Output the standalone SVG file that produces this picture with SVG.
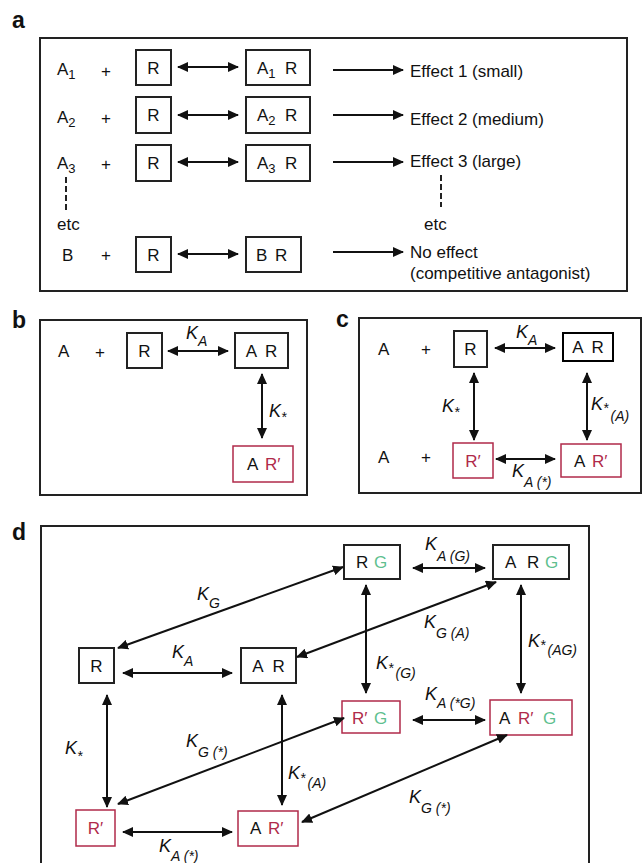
<svg xmlns="http://www.w3.org/2000/svg" width="644" height="863" viewBox="0 0 644 863">
<style>
text{font-family:"Liberation Sans",Arial,sans-serif;font-size:17px;fill:#111}
.lbl{font-weight:bold;font-size:23px}
.k{font-style:italic;font-size:18px}
.s{font-size:14px;font-style:italic}
.n{font-size:13px}
.frame{fill:none;stroke:#222;stroke-width:2}
.box{fill:#fff;stroke:#222;stroke-width:2}
.rbox{fill:#fff;stroke:#b02a4a;stroke-width:1.5}
.red{fill:#b02a4a}
.grn{fill:#5fbf8f}
.mid{text-anchor:middle}
.ar{stroke:#111;stroke-width:2;fill:none}
.bi{marker-start:url(#h);marker-end:url(#h)}
.uni{marker-end:url(#h)}
.dash{stroke:#222;stroke-width:2;stroke-dasharray:6 3;fill:none}
</style>
<defs>
<marker id="h" markerWidth="11" markerHeight="10" refX="10" refY="5" orient="auto-start-reverse" markerUnits="userSpaceOnUse" viewBox="0 0 11 10"><path d="M0,0 L11,5 L0,10 z" fill="#111"/></marker>
</defs>

<!-- Panel a -->
<g id="panel-a">
<text class="lbl" x="12" y="28">a</text>
<rect class="frame" x="40" y="38" width="587" height="253"/>
<g id="a-row1">
<text x="57" y="75">A<tspan class="n" dy="4">1</tspan></text>
<text class="mid" x="106" y="77">+</text>
<rect class="box" x="136" y="50" width="35" height="35"/><text class="mid" x="153.5" y="74">R</text>
<rect class="box" x="246" y="50" width="64" height="35"/><text x="257" y="74">A<tspan class="n" dy="4">1</tspan><tspan x="285" dy="-4">R</tspan></text>
<text x="410" y="77">Effect 1 (small)</text>
</g>
<g id="a-row2">
<text x="57" y="123">A<tspan class="n" dy="4">2</tspan></text>
<text class="mid" x="106" y="124">+</text>
<rect class="box" x="136" y="97" width="35" height="36"/><text class="mid" x="153.5" y="121">R</text>
<rect class="box" x="246" y="97" width="64" height="36"/><text x="257" y="121">A<tspan class="n" dy="4">2</tspan><tspan x="285" dy="-4">R</tspan></text>
<text x="410" y="125">Effect 2 (medium)</text>
</g>
<g id="a-row3">
<text x="57" y="169">A<tspan class="n" dy="4">3</tspan></text>
<text class="mid" x="106" y="170">+</text>
<rect class="box" x="136" y="145" width="35" height="36"/><text class="mid" x="153.5" y="169">R</text>
<rect class="box" x="246" y="145" width="64" height="36"/><text x="257" y="169">A<tspan class="n" dy="4">3</tspan><tspan x="285" dy="-4">R</tspan></text>
<text x="410" y="167">Effect 3 (large)</text>
</g>
<g id="a-etc">
<text x="57" y="230">etc</text>
<text x="424" y="230">etc</text>
</g>
<g id="a-rowB">
<text x="62" y="261">B</text>
<text class="mid" x="106" y="261">+</text>
<rect class="box" x="136" y="237" width="35" height="35"/><text class="mid" x="153.5" y="261">R</text>
<rect class="box" x="246" y="237" width="55" height="35"/><text x="256" y="261">B<tspan x="275">R</tspan></text>
<text x="410" y="258">No effect</text>
<text x="410" y="279">(competitive antagonist)</text>
</g>
<g id="a-connectors">
<line class="ar bi" x1="178" y1="67" x2="238" y2="67"/>
<line class="ar uni" x1="333" y1="70" x2="403" y2="70"/>
<line class="ar bi" x1="178" y1="115" x2="238" y2="115"/>
<line class="ar uni" x1="333" y1="115" x2="403" y2="115"/>
<line class="ar bi" x1="178" y1="162" x2="238" y2="162"/>
<line class="ar uni" x1="333" y1="162" x2="403" y2="162"/>
<line class="ar bi" x1="178" y1="254" x2="238" y2="254"/>
<line class="ar uni" x1="333" y1="252" x2="403" y2="252"/>
<line class="dash" x1="66" y1="177" x2="66" y2="210"/>
<line class="dash" x1="441" y1="175" x2="441" y2="207"/>
</g>
</g>

<!-- Panel b -->
<g id="panel-b">
<text class="lbl" x="12" y="328">b</text>
<rect class="frame" x="40" y="320" width="267" height="175"/>
<text x="58" y="357">A</text>
<text class="mid" x="100" y="358">+</text>
<g id="b-R"><rect class="box" x="127" y="333" width="35" height="35"/><text class="mid" x="144.5" y="357">R</text></g>
<g id="b-AR"><rect class="box" x="235" y="333" width="53" height="35"/><text class="mid" x="261.5" y="357" style="word-spacing:4px">A R</text></g>
<g id="b-ARp"><rect class="rbox" x="233" y="446" width="60" height="36"/><text x="247" y="470">A<tspan class="red" x="265">R′</tspan></text></g>
<g id="b-connectors">
<line class="ar bi" x1="168" y1="351" x2="228" y2="351"/>
<line class="ar bi" x1="262" y1="374" x2="262" y2="438"/>
<text class="k" x="186" y="339">K<tspan class="s" dy="7">A</tspan></text>
<text class="k" x="269" y="417">K<tspan class="s" dy="5">*</tspan></text>
</g>
</g>

<!-- Panel c -->
<g id="panel-c">
<text class="lbl" x="336" y="327">c</text>
<rect class="frame" x="359" y="318" width="282" height="175"/>
<text x="378" y="355">A</text>
<text class="mid" x="426" y="355">+</text>
<text x="378" y="463">A</text>
<text class="mid" x="426" y="463">+</text>
<g id="c-R"><rect class="box" x="454" y="331" width="33" height="36"/><text class="mid" x="470.5" y="355">R</text></g>
<g id="c-AR"><rect class="box" x="563" y="333" width="50" height="28" style="stroke:#000"/><text class="mid" x="588" y="353" style="word-spacing:4px">A R</text></g>
<g id="c-Rp"><rect class="rbox" x="453" y="443" width="40" height="35"/><text class="mid red" x="473" y="467">R′</text></g>
<g id="c-ARp"><rect class="rbox" x="561" y="444" width="60" height="33"/><text x="574" y="467">A<tspan class="red" x="592">R′</tspan></text></g>
<g id="c-connectors">
<line class="ar bi" x1="495" y1="348" x2="555" y2="348"/>
<line class="ar bi" x1="474" y1="373" x2="474" y2="440"/>
<line class="ar bi" x1="587" y1="373" x2="587" y2="440"/>
<line class="ar bi" x1="496" y1="459" x2="555" y2="459"/>
<text class="k" x="516" y="338">K<tspan class="s" dy="7">A</tspan></text>
<text class="k" x="442" y="412">K<tspan class="s" dy="5">*</tspan></text>
<text class="k" x="591" y="410">K<tspan class="s" dy="3">*</tspan><tspan class="s" dx="2" dy="8">(A)</tspan></text>
<text class="k" x="512" y="477">K<tspan class="s" dy="10">A (*)</tspan></text>
</g>
</g>

<!-- Panel d -->
<g id="panel-d">
<text class="lbl" x="12" y="540">d</text>
<rect class="frame" x="41" y="526" width="548" height="345"/>
<g id="d-R"><rect class="box" x="79" y="648" width="35" height="35"/><text class="mid" x="96.5" y="672">R</text></g>
<g id="d-AR"><rect class="box" x="241" y="648" width="55" height="35"/><text class="mid" x="268.5" y="672" style="word-spacing:5px">A R</text></g>
<g id="d-Rp"><rect class="rbox" x="76" y="810" width="39" height="36"/><text class="mid red" x="95.5" y="834">R′</text></g>
<g id="d-ARp"><rect class="rbox" x="238" y="811" width="60" height="35"/><text x="250" y="834">A<tspan class="red" x="268">R′</tspan></text></g>
<g id="d-RG"><rect class="box" x="344" y="545" width="56" height="34"/><text x="356" y="568">R<tspan class="grn" x="374">G</tspan></text></g>
<g id="d-ARG"><rect class="box" x="493" y="545" width="76" height="34"/><text x="505" y="568">A<tspan x="527">R</tspan><tspan class="grn" x="545">G</tspan></text></g>
<g id="d-RpG"><rect class="rbox" x="342" y="701" width="58" height="32"/><text x="352" y="724"><tspan class="red">R′</tspan><tspan class="grn" x="374">G</tspan></text></g>
<g id="d-ARpG"><rect class="rbox" x="490" y="700" width="82" height="35"/><text x="499" y="724">A<tspan class="red" x="518">R′</tspan><tspan class="grn" x="543">G</tspan></text></g>
<g id="d-connectors">
<line class="ar bi" x1="123" y1="673" x2="232" y2="673"/>
<line class="ar bi" x1="107" y1="695" x2="107" y2="807"/>
<line class="ar bi" x1="282" y1="695" x2="282" y2="805"/>
<line class="ar bi" x1="123" y1="832" x2="232" y2="832"/>
<line class="ar bi" x1="413" y1="568" x2="485" y2="568"/>
<line class="ar bi" x1="366" y1="585" x2="366" y2="693"/>
<line class="ar bi" x1="521" y1="585" x2="521" y2="693"/>
<line class="ar bi" x1="413" y1="720" x2="485" y2="720"/>
<line class="ar bi" x1="118" y1="648" x2="343" y2="567"/>
<line class="ar bi" x1="297" y1="657" x2="496" y2="582"/>
<line class="ar bi" x1="118" y1="804" x2="344" y2="718"/>
<line class="ar bi" x1="302" y1="822" x2="507" y2="735"/>
<text class="k" x="172" y="658">K<tspan class="s" dy="8">A</tspan></text>
<text class="k" x="65" y="754">K<tspan class="s" dy="7">*</tspan></text>
<text class="k" x="288" y="779">K<tspan class="s" dy="4">*</tspan><tspan class="s" dx="2" dy="5">(A)</tspan></text>
<text class="k" x="159" y="852">K<tspan class="s" dy="9">A (*)</tspan></text>
<text class="k" x="425" y="550">K<tspan class="s" dy="11">A (G)</tspan></text>
<text class="k" x="376" y="669">K<tspan class="s" dy="4">*</tspan><tspan class="s" dx="2" dy="5">(G)</tspan></text>
<text class="k" x="528" y="647">K<tspan class="s" dy="3">*</tspan><tspan class="s" dx="2" dy="5">(AG)</tspan></text>
<text class="k" x="425" y="700">K<tspan class="s" dy="8">A (*G)</tspan></text>
<text class="k" x="197" y="600">K<tspan class="s" dy="8">G</tspan></text>
<text class="k" x="424" y="628">K<tspan class="s" dy="10">G (A)</tspan></text>
<text class="k" x="186" y="747">K<tspan class="s" dy="10">G (*)</tspan></text>
<text class="k" x="409" y="803">K<tspan class="s" dy="10">G (*)</tspan></text>
</g>
</g>
</svg>
